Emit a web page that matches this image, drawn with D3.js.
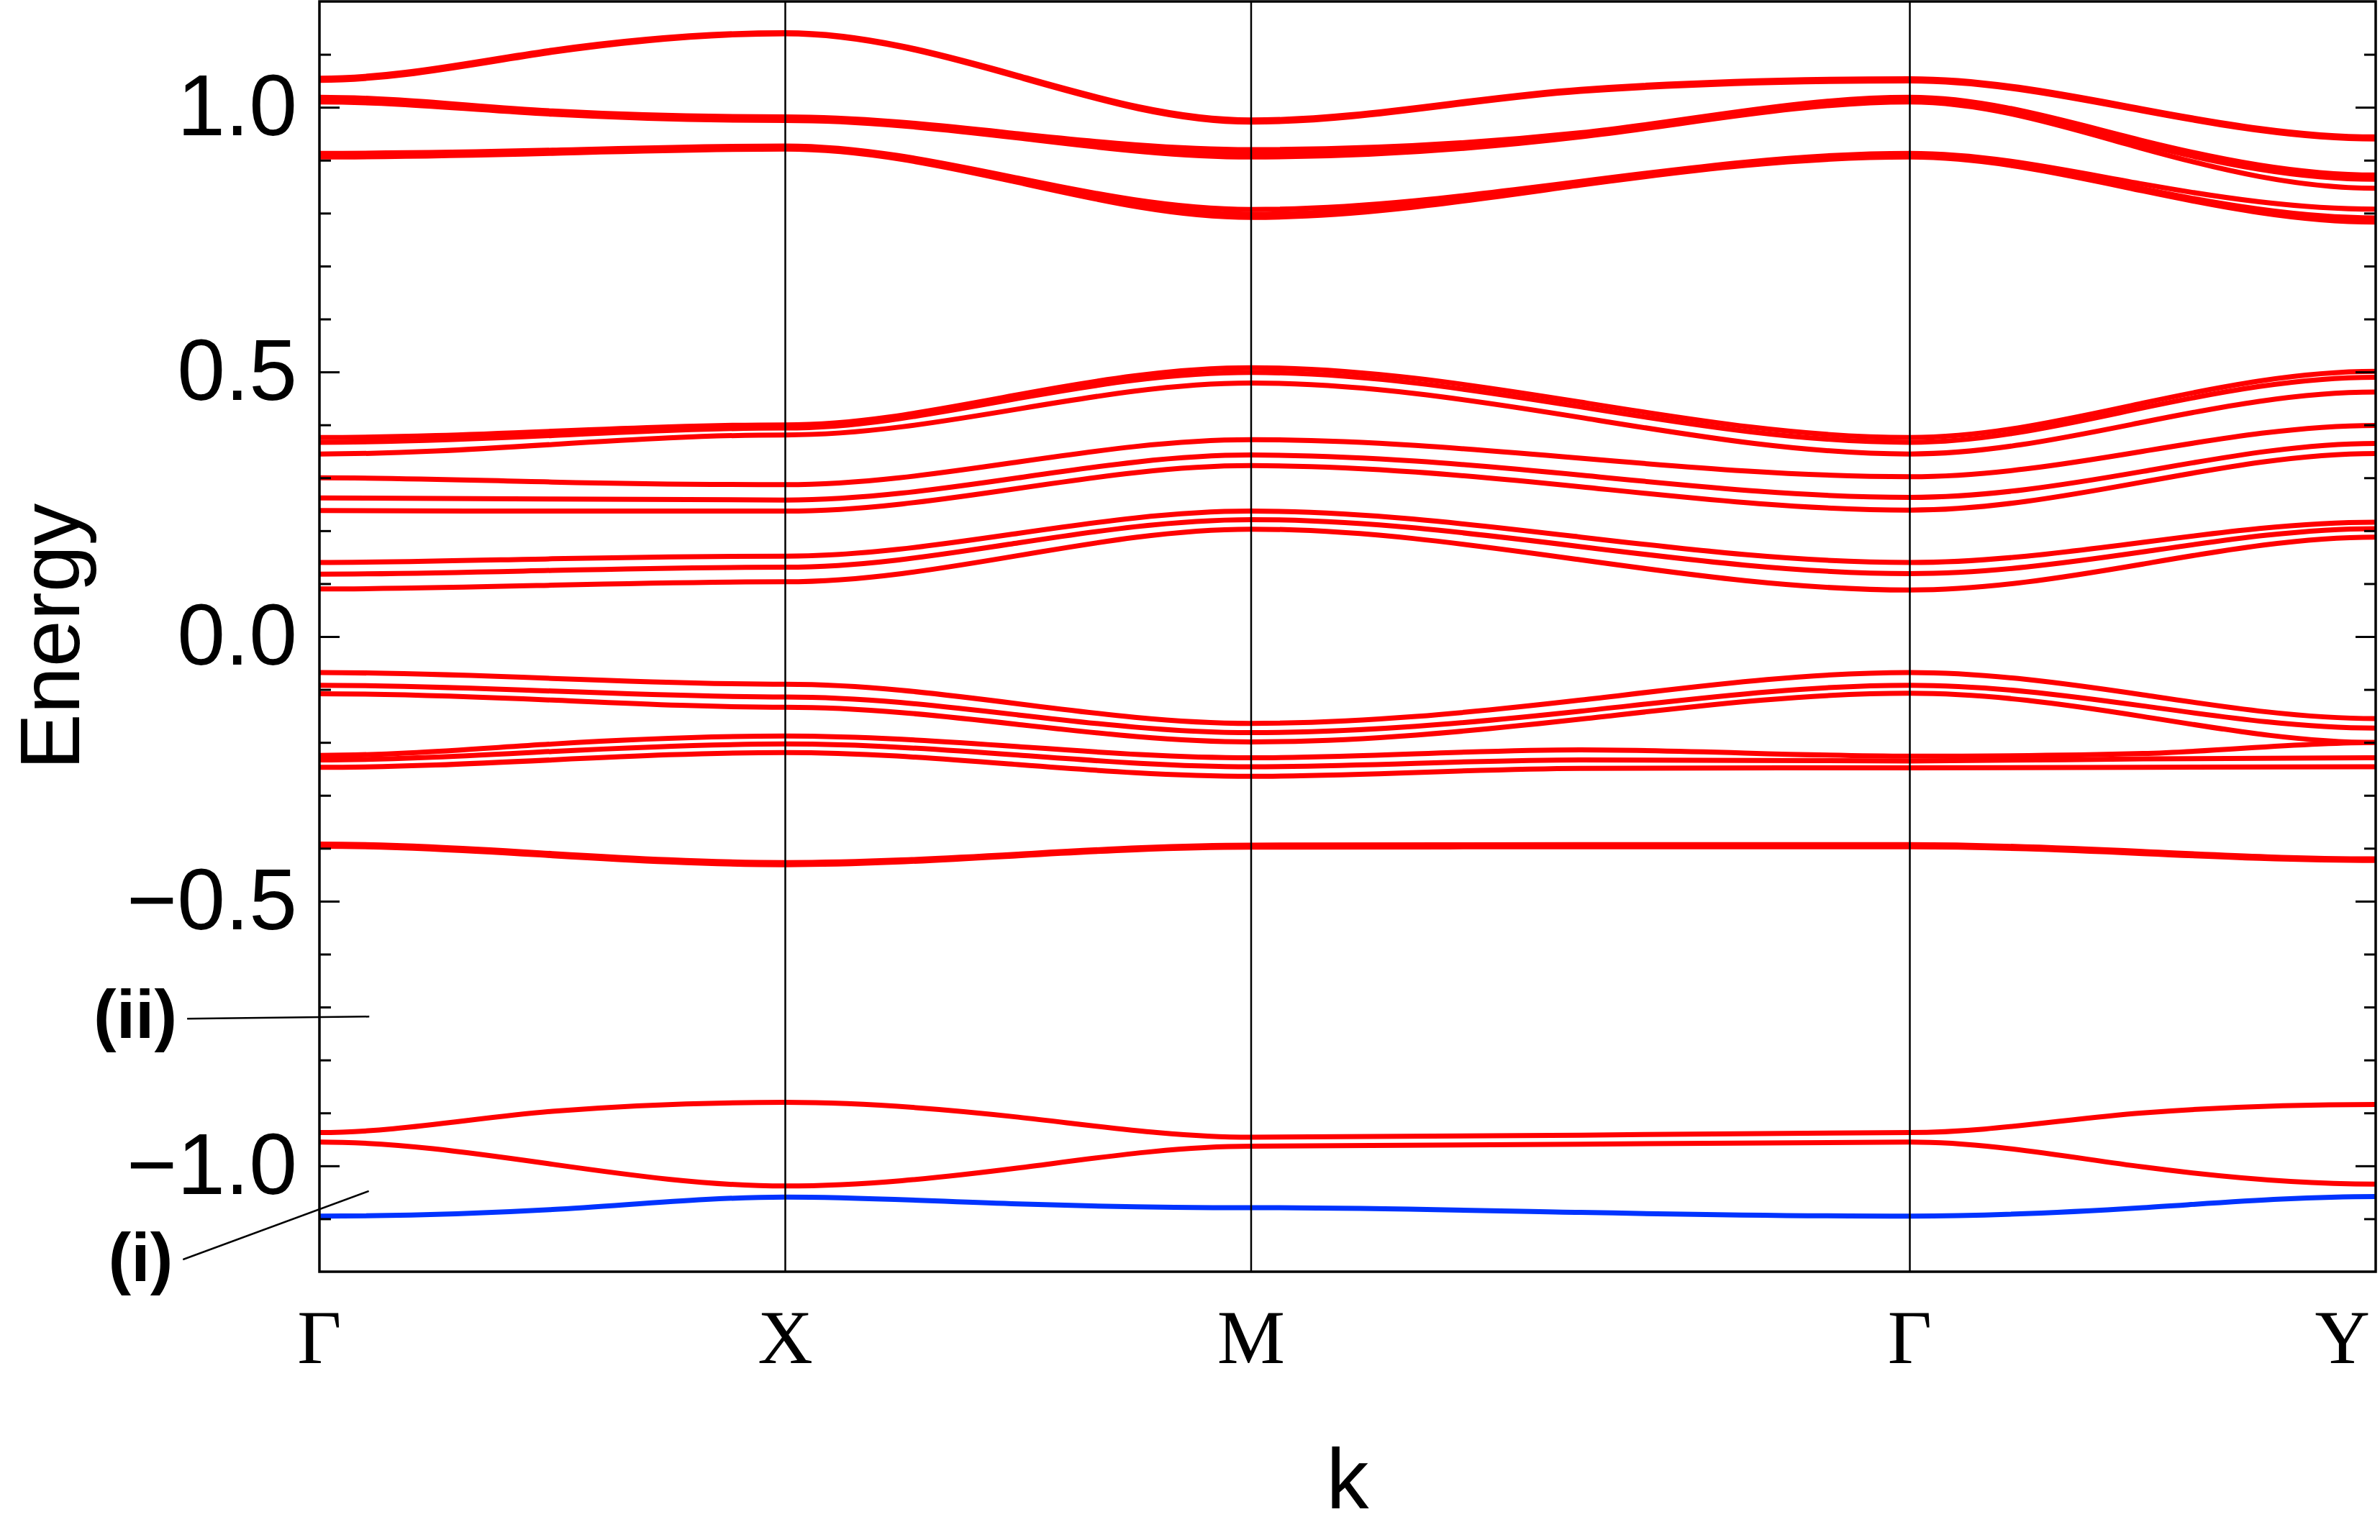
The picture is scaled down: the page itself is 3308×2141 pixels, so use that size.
<!DOCTYPE html>
<html>
<head>
<meta charset="utf-8">
<script src="https://cdn.jsdelivr.net/npm/d3@7"></script>
<style>
  body { margin: 0; background: #fff; }
  svg { display: block; }
</style>
</head>
<body>
<div id="chart"></div>
<script>
// high-symmetry path  Γ - X - M - Γ - Y
const symLabels = ['Γ', 'X', 'M', 'Γ', 'Y'];
const symK = [0, 1, 2, 3.414, 4.414];
// k where each band is read: Γ, mid, X, mid, M, mid, Γ, mid, Y
const kSamples = [0, 0.5, 1, 1.5, 2, 2.707, 3.414, 3.914, 4.414];

// red bands (energies at kSamples)
const bandsTop = [
  [1.055, 1.108, 1.141, 1.060, 0.976, 1.034, 1.054, 0.997, 0.944],
  [1.051, 1.104, 1.139, 1.057, 0.972, 1.030, 1.050, 0.993, 0.940],
  [1.019, 0.993, 0.982, 0.950, 0.920, 0.952, 1.019, 0.937, 0.872],
  [1.015, 0.990, 0.979, 0.946, 0.913, 0.948, 1.015, 0.930, 0.864],
  [1.010, 0.987, 0.975, 0.942, 0.906, 0.944, 1.010, 0.922, 0.847],
  [0.913, 0.919, 0.927, 0.866, 0.807, 0.860, 0.913, 0.855, 0.8075],
  [0.909, 0.916, 0.924, 0.862, 0.798, 0.856, 0.909, 0.846, 0.791],
  [0.906, 0.913, 0.921, 0.858, 0.792, 0.853, 0.906, 0.842, 0.783]
];
const bandsMid = [
  [0.376, 0.388, 0.400, 0.457, 0.508, 0.443, 0.376, 0.441, 0.501],
  [0.367, 0.380, 0.394, 0.450, 0.499, 0.434, 0.367, 0.432, 0.490],
  [0.345, 0.363, 0.381, 0.430, 0.479, 0.414, 0.345, 0.405, 0.462],
  [0.300, 0.292, 0.287, 0.330, 0.372, 0.337, 0.302, 0.350, 0.399],
  [0.262, 0.260, 0.258, 0.300, 0.343, 0.305, 0.263, 0.312, 0.365],
  [0.238, 0.237, 0.237, 0.280, 0.323, 0.283, 0.239, 0.292, 0.346],
  [0.140, 0.147, 0.152, 0.195, 0.237, 0.188, 0.140, 0.178, 0.216],
  [0.118, 0.125, 0.131, 0.177, 0.221, 0.170, 0.119, 0.160, 0.204],
  [0.090, 0.097, 0.1035, 0.153, 0.203, 0.145, 0.088, 0.137, 0.188]
];
const bandsLow = [
  [-0.068, -0.079, -0.090, -0.127, -0.164, -0.120, -0.068, -0.110, -0.155],
  [-0.092, -0.103, -0.114, -0.148, -0.1815, -0.141, -0.092, -0.131, -0.173],
  [-0.108, -0.120, -0.1335, -0.166, -0.199, -0.156, -0.107, -0.151, -0.200],
  [-0.2245, -0.203, -0.188, -0.208, -0.229, -0.214, -0.226, -0.221, -0.200],
  [-0.233, -0.217, -0.203, -0.224, -0.246, -0.233, -0.235, -0.231, -0.229],
  [-0.247, -0.233, -0.219, -0.242, -0.264, -0.249, -0.248, -0.247, -0.246],
  [-0.392, -0.410, -0.427, -0.411, -0.394, -0.393, -0.393, -0.406, -0.420],
  [-0.396, -0.414, -0.431, -0.414, -0.398, -0.397, -0.397, -0.410, -0.423]
];
const bandsBottom = [
  [-0.937, -0.897, -0.880, -0.908, -0.946, -0.942, -0.937, -0.900, -0.884],
  [-0.955, -0.997, -1.038, -1.004, -0.963, -0.959, -0.955, -1.002, -1.0345]
];
// lowest band, drawn in blue
const blueBand = [-1.095, -1.0825, -1.059, -1.072, -1.079, -1.088, -1.095, -1.079, -1.058];

const majorTicks = [-1, -0.5, 0, 0.5, 1];
const minorTicks = d3.range(-11, 12).map(d => d / 10).filter(d => Math.abs(d * 2 - Math.round(d * 2)) > 1e-6);

// annotations, in data units (k, energy)
const notes = [
  {label: '(ii)', k0: -0.284, e0: -0.722, k1: 0.107, e1: -0.718, dy: 27},
  {label: '(i)', k0: -0.293, e0: -1.177, k1: 0.106, e1: -1.0476, dy: 30}
];

const width = 3308, height = 2141;
const margin = {top: 2, right: 6, bottom: 373, left: 444};

// bands are flat at the high-symmetry points (even sample index),
// mid-segment points get a tangent from their neighbours
function symCurve(context) {
  let pts = [];
  return {
    areaStart() {}, areaEnd() {},
    lineStart() { pts = []; },
    point(px, py) { pts.push([+px, +py]); },
    lineEnd() {
      const n = pts.length;
      const tang = pts.map((p, i) => {
        if (i % 2 === 0 || i === n - 1) return 0;
        const s0 = (p[1] - pts[i - 1][1]) / (p[0] - pts[i - 1][0]);
        const s1 = (pts[i + 1][1] - p[1]) / (pts[i + 1][0] - p[0]);
        if (s0 * s1 <= 0) return 0;
        return 1.5 * 2 * s0 * s1 / (s0 + s1);
      });
      context.moveTo(pts[0][0], pts[0][1]);
      for (let i = 1; i < n; i++) {
        const [xa, ya] = pts[i - 1], [xb, yb] = pts[i];
        const h = (xb - xa) / 3;
        context.bezierCurveTo(xa + h, ya + tang[i - 1] * h, xb - h, yb - tang[i] * h, xb, yb);
      }
    }
  };
}

const svg = d3.select('#chart').append('svg')
  .attr('width', width).attr('height', height)
  .attr('viewBox', `0 0 ${width} ${height}`);

const x = d3.scaleLinear([0, 4.414], [margin.left, width - margin.right]);
const y = d3.scaleLinear([-1.2, 1.2], [height - margin.bottom, margin.top]);

svg.append('clipPath').attr('id', 'plotClip')
  .append('rect')
  .attr('x', x(0)).attr('y', y(1.2))
  .attr('width', x(4.414) - x(0)).attr('height', y(-1.2) - y(1.2));

const line = d3.line()
  .x((d, i) => x(kSamples[i]))
  .y(d => y(d))
  .curve(symCurve);

const bands = svg.append('g').attr('clip-path', 'url(#plotClip)');

bands.selectAll('path.red')
  .data([...bandsTop, ...bandsMid, ...bandsLow, ...bandsBottom])
  .join('path')
  .attr('class', 'red')
  .attr('d', line)
  .attr('fill', 'none')
  .attr('stroke', '#ff0000')
  .attr('stroke-width', 7);

bands.append('path')
  .datum(blueBand)
  .attr('d', line)
  .attr('fill', 'none')
  .attr('stroke', '#0033ff')
  .attr('stroke-width', 7);

// vertical lines at inner high-symmetry points
svg.append('g').selectAll('line')
  .data(symK.slice(1, -1))
  .join('line')
  .attr('x1', d => x(d)).attr('x2', d => x(d))
  .attr('y1', y(1.2)).attr('y2', y(-1.2))
  .attr('stroke', '#000')
  .attr('stroke-width', 2.5);

// y axes, ticks pointing inward
const fmt = d3.format('.1f');
const left = svg.append('g').attr('transform', `translate(${x(0)},0)`);
left.call(d3.axisLeft(y).tickValues(majorTicks).tickSizeInner(-28).tickSizeOuter(0).tickPadding(31).tickFormat(fmt));
left.append('g').call(d3.axisLeft(y).tickValues(minorTicks).tickSizeInner(-16).tickSizeOuter(0).tickFormat(''));

const right = svg.append('g').attr('transform', `translate(${x(4.414)},0)`);
right.call(d3.axisRight(y).tickValues(majorTicks).tickSizeInner(-28).tickSizeOuter(0).tickFormat(''));
right.append('g').call(d3.axisRight(y).tickValues(minorTicks).tickSizeInner(-16).tickSizeOuter(0).tickFormat(''));

svg.selectAll('.domain').remove();
svg.selectAll('.tick line').attr('stroke', '#000').attr('stroke-width', 3);
left.selectAll('.tick text')
  .attr('font-family', '"Liberation Sans", Arial, sans-serif')
  .attr('font-size', 120)
  .attr('fill', '#000');

// frame
svg.append('rect')
  .attr('x', x(0)).attr('y', y(1.2))
  .attr('width', x(4.414) - x(0)).attr('height', y(-1.2) - y(1.2))
  .attr('fill', 'none')
  .attr('stroke', '#000')
  .attr('stroke-width', 3.5);

// k-point labels (the last one is pulled inside the frame)
const lastK = symLabels.length - 1;
svg.append('g').selectAll('text')
  .data(symLabels)
  .join('text')
  .attr('x', (d, i) => i === lastK ? x(symK[i]) - 8 : x(symK[i]))
  .attr('y', y(-1.2) + 127)
  .attr('text-anchor', (d, i) => i === lastK ? 'end' : 'middle')
  .attr('font-family', '"Liberation Serif", "Times New Roman", serif')
  .attr('font-size', 106)
  .text(d => d);

// axis titles
svg.append('text')
  .attr('x', (x(0) + x(4.414)) / 2)
  .attr('y', 2097)
  .attr('text-anchor', 'middle')
  .attr('font-family', '"Liberation Sans", Arial, sans-serif')
  .attr('font-size', 118)
  .text('k');

svg.append('text')
  .attr('transform', `translate(110,${(y(1.2) + y(-1.2)) / 2})rotate(-90)`)
  .attr('text-anchor', 'middle')
  .attr('font-family', '"Liberation Sans", Arial, sans-serif')
  .attr('font-size', 117)
  .text('Energy');

// (i), (ii) pointers
const noteG = svg.append('g');
noteG.selectAll('line')
  .data(notes)
  .join('line')
  .attr('x1', d => x(d.k0)).attr('y1', d => y(d.e0))
  .attr('x2', d => x(d.k1)).attr('y2', d => y(d.e1))
  .attr('stroke', '#000')
  .attr('stroke-width', 2.5);
noteG.selectAll('text')
  .data(notes)
  .join('text')
  .attr('x', d => x(d.k0) - 14)
  .attr('y', d => y(d.e0) + d.dy)
  .attr('text-anchor', 'end')
  .attr('font-family', '"Liberation Sans", Arial, sans-serif')
  .attr('font-weight', 'bold')
  .attr('font-size', 95)
  .text(d => d.label);
</script>
</body>
</html>
